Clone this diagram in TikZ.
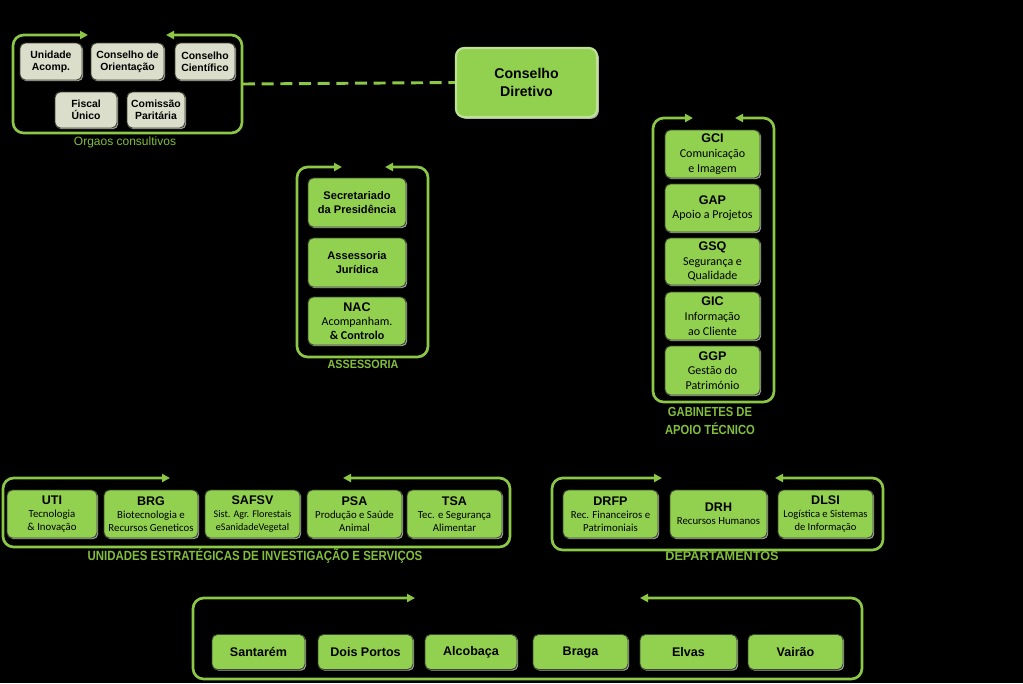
\documentclass[tikz,border=0pt]{standalone}
\usepackage{fontspec}
\setmainfont{Liberation Sans}
\newfontfamily\subf{Carlito}
\usetikzlibrary{arrows.meta,shadows}
\definecolor{lgreen}{RGB}{146,208,80}
\definecolor{fgreen}{RGB}{140,200,70}
\definecolor{lblgreen}{RGB}{130,190,60}
\definecolor{grayfill}{RGB}{218,222,202}
\definecolor{bordr}{RGB}{60,70,50}
\tikzset{
  sz/.style 2 args={minimum width=#1*0.75pt, minimum height=#2*0.75pt},
  basebox/.style={rounded corners=4pt, draw=bordr, line width=0.7pt, inner sep=0pt, align=center,
     drop shadow={shadow xshift=0.9pt, shadow yshift=-0.9pt, fill=gray!70, opacity=1}},
  graybox/.style={basebox, fill=grayfill, font=\bfseries\fontsize{7.8}{9.2}\selectfont},
  greenbox/.style={basebox, fill=lgreen},
  asbox/.style={greenbox, font=\bfseries\fontsize{8.3}{11}\selectfont},
  gabbox/.style={greenbox, font=\subf\fontsize{9}{11}\selectfont},
  unbox/.style={greenbox, font=\subf\fontsize{8.1}{9.6}\selectfont},
  locbox/.style={greenbox, font=\bfseries\fontsize{9.4}{11}\selectfont},
  frm/.style={draw=fgreen, line width=2pt, rounded corners=8pt,
     {Triangle[length=6pt,width=6pt]}-{Triangle[length=6pt,width=6pt]}},
  grplabel/.style={text=lblgreen, inner sep=0pt},
  dashcon/.style={draw=fgreen, line width=2.2pt, dash pattern=on 9pt off 5pt},
}
\newcommand\hd[1]{{\normalfont\bfseries\fontsize{9.4}{10}\selectfont #1}}
\newcommand\grpframe[6]{\draw[frm] (#5,#2) -- (#1,#2) -- (#1,#4) -- (#3,#4) -- (#3,#2) -- (#6,#2);}
\begin{document}
\begin{tikzpicture}[x=0.75pt,y=-0.75pt]
\fill[black] (0,0) rectangle (1023,683);
\useasboundingbox (0,0) rectangle (1023,683);

% ---- group labels (drawn before frames, so frames overlap them)
\node[grplabel, font=\fontsize{9}{10}\selectfont] (lbloc) at (125,142) {Orgaos consultivos};
\node[grplabel, font=\bfseries\fontsize{9}{10}\selectfont, xscale=0.9] (lblas) at (363,364) {ASSESSORIA};
\node[grplabel, font=\bfseries\fontsize{9.9}{13}\selectfont, xscale=0.85, align=center] (lblgab) at (710,421) {GABINETES DE\\APOIO TÉCNICO};
\node[grplabel, font=\bfseries\fontsize{10}{11}\selectfont, xscale=0.86] (lblun) at (255,556) {UNIDADES ESTRATÉGICAS DE INVESTIGAÇÃO E SERVIÇOS};
\node[grplabel, font=\bfseries\fontsize{9.5}{10}\selectfont] (lbldep) at (722,556) {DEPARTAMENTOS};

% ---- group frames
\grpframe{13}{35}{242}{133}{88}{166}
\grpframe{297}{167}{428}{357}{342}{385}
\grpframe{653}{118}{774}{402}{693}{735}
\grpframe{3}{478}{510}{547}{170}{343}
\grpframe{552}{478}{883}{550}{662}{775}
\grpframe{193}{598}{862}{679}{415}{640}

% ---- orgaos consultivos
\node[graybox, sz={62}{37}] (ua) at (51,61.5) {Unidade\\Acomp.};
\node[graybox, sz={73}{37}] (co) at (127.5,61.5) {Conselho de\\Orientação};
\node[graybox, sz={60}{37}] (cc) at (205,61.5) {Conselho\\Científico};
\node[graybox, sz={62}{36}] (fu) at (86,110) {Fiscal\\Único};
\node[graybox, sz={58}{36}] (cp) at (156,110) {Comissão\\Paritária};

% ---- conselho diretivo
\node[greenbox, draw={rgb,255:red,190;green,225;blue,150}, line width=1.6pt, rounded corners=6pt,
      drop shadow={shadow xshift=1.4pt, shadow yshift=-1.4pt, fill=gray!60, opacity=1},
      sz={141}{69}, font=\bfseries\fontsize{10.6}{13.5}\selectfont] (cd) at (526.5,82.5) {Conselho\\Diretivo};
\coordinate (oc) at (243,84);
\draw[dashcon] (oc) -- (cd.west);

% ---- assessoria
\node[asbox, sz={98}{49}] (sec) at (357,202.5) {Secretariado\\da Presidência};
\node[asbox, sz={98}{49}] (aj) at (357,262.5) {Assessoria\\Jurídica};
\node[asbox, sz={98}{48}, font=\subf\fontsize{9}{10.5}\selectfont] (nac) at (357,321) {\hd{NAC}\\Acompanham.\\{\bfseries \& Controlo}};

% ---- gabinetes
\node[gabbox, sz={95}{48}] (gci) at (712.5,154) {\hd{GCI}\\Comunicação\\e Imagem};
\node[gabbox, sz={95}{48}] (gap) at (712.5,208) {\hd{GAP}\\Apoio a Projetos};
\node[gabbox, sz={95}{47}] (gsq) at (712.5,261.5) {\hd{GSQ}\\Segurança e\\Qualidade};
\node[gabbox, sz={95}{48}] (gic) at (712.5,316) {\hd{GIC}\\Informação\\ao Cliente};
\node[gabbox, sz={95}{49}] (ggp) at (712.5,370.5) {\hd{GGP}\\Gestão do\\Património};

% ---- unidades estrategicas
\node[unbox, sz={90}{48}] (uti) at (52,514) {\hd{UTI}\\Tecnologia\\\& Inovação};
\node[unbox, sz={94}{48}] (brg) at (151,514) {\hd{BRG}\\Biotecnologia e\\Recursos Geneticos};
\node[unbox, sz={95}{48}, font=\subf\fontsize{7.6}{9.6}\selectfont] (safsv) at (252.5,514) {\hd{SAFSV}\\Sist. Agr. Florestais\\eSanidadeVegetal};
\node[unbox, sz={95}{48}] (psa) at (354.5,514) {\hd{PSA}\\Produção e Saúde\\Animal};
\node[unbox, sz={95}{48}] (tsa) at (454.5,514) {\hd{TSA}\\Tec. e Segurança\\Alimentar};

% ---- departamentos
\node[unbox, sz={95}{48}] (drfp) at (610.5,514) {\hd{DRFP}\\Rec. Financeiros e\\Patrimoniais};
\node[unbox, sz={97}{48}] (drh) at (718.5,514) {\hd{DRH}\\Recursos Humanos};
\node[unbox, sz={95}{48}, font=\subf\fontsize{7.9}{9.6}\selectfont] (dlsi) at (825.5,514) {\hd{DLSI}\\Logística e Sistemas\\de Informação};

% ---- polos
\node[locbox, sz={93}{35}] (san) at (258.5,652) {Santarém};
\node[locbox, sz={95}{35}] (dp) at (365.5,652) {Dois Portos};
\node[locbox, sz={92}{35}] (alc) at (471,652) {Alcobaça};
\node[locbox, sz={95}{35}] (bra) at (580.5,652) {Braga};
\node[locbox, sz={97}{35}] (elv) at (688.5,652) {Elvas};
\node[locbox, sz={95}{35}] (vai) at (795.5,652) {Vairão};
\end{tikzpicture}
\end{document}
